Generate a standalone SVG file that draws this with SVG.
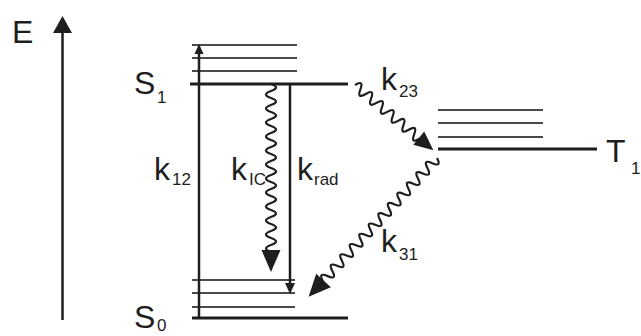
<svg xmlns="http://www.w3.org/2000/svg" width="641" height="336" viewBox="0 0 641 336">
<style>
  text { font-family: "Liberation Sans", Arial, sans-serif; fill: #1e1e1e; }
  .big { font-size: 32px; }
  .sub { font-size: 17px; }
  .lvl { stroke: #1e1e1e; stroke-width: 3; fill: none; }
  .vib { stroke: #4a4a4a; stroke-width: 2; fill: none; }
  .ln { stroke: #1e1e1e; stroke-width: 2.5; fill: none; }
  .wave { stroke: #1e1e1e; stroke-width: 2.2; fill: none; stroke-linejoin: round; }
  .head { fill: #1e1e1e; }
</style>
<rect width="641" height="336" fill="#ffffff"/>

<g id="energy-axis">
  <line class="ln" x1="62.5" y1="320" x2="62.5" y2="32" stroke-width="3.5"/>
  <polygon class="head" points="53,33 72,33 62.5,16"/>
  <text class="big" x="12" y="43" font-size="34">E</text>
</g>

<g id="S1">
  <line class="vib" x1="192" y1="45" x2="297" y2="45"/>
  <line class="vib" x1="192" y1="58" x2="297" y2="58"/>
  <line class="vib" x1="192" y1="71" x2="297" y2="71"/>
  <line class="lvl" x1="190" y1="84" x2="348" y2="84"/>
  <text class="big" x="134" y="94">S<tspan class="sub" x="157" y="103" font-size="18">1</tspan></text>
</g>

<g id="S0">
  <line class="vib" x1="192" y1="280" x2="295" y2="280"/>
  <line class="vib" x1="192" y1="293" x2="295" y2="293"/>
  <line class="vib" x1="192" y1="307" x2="295" y2="307"/>
  <line class="lvl" x1="192" y1="318" x2="348" y2="318"/>
  <text class="big" x="134" y="328">S<tspan class="sub" x="157" y="331" font-size="18">0</tspan></text>
</g>

<g id="T1">
  <line class="vib" x1="438" y1="110" x2="543" y2="110"/>
  <line class="vib" x1="438" y1="123" x2="543" y2="123"/>
  <line class="vib" x1="438" y1="137" x2="543" y2="137"/>
  <line class="lvl" x1="438" y1="149" x2="597" y2="149"/>
  <text class="big" x="606" y="162">T<tspan class="sub" x="631" y="174" font-size="18">1</tspan></text>
</g>

<g id="connectors">
  <g id="k12">
    <line class="ln" x1="199" y1="318" x2="199" y2="52"/>
    <polygon class="head" points="194.5,54 203.5,54 199,44"/>
  </g>
  <g id="kIC" transform="translate(271,84) rotate(90)">
    <path class="wave" d="M0,0 q3.5,-10 7,0 t7,0 t7,0 t7,0 t7,0 t7,0 t7,0 t7,0 t7,0 t7,0 t7,0 t7,0 t7,0 t7,0 t7,0 t7,0 t7,0 t7,0 t7,0 t7,0 t7,0 t7,0 t7,0 t7,0"/>
    <polygon class="head" points="166,-9.5 188,0 166,9.5"/>
  </g>
  <g id="krad">
    <line class="ln" x1="290" y1="84" x2="290" y2="286"/>
    <polygon class="head" points="285,283 295,283 290,294"/>
  </g>
  <g id="k23" transform="translate(355,85) rotate(39.8)">
    <path class="wave" d="M0,0 q3.5,-10 7,0 t7,0 t7,0 t7,0 t7,0 t7,0 t7,0 t7,0 t7,0 t7,0 t7,0 t7,0"/>
    <polygon class="head" points="83,-8.5 102,0 83,8.5"/>
  </g>
  <g id="k31" transform="translate(437,158) rotate(132.8)">
    <path class="wave" d="M0,0 q3.5,-10 7,0 t7,0 t7,0 t7,0 t7,0 t7,0 t7,0 t7,0 t7,0 t7,0 t7,0 t7,0 t7,0 t7,0 t7,0 t7,0 t7,0 t7,0 t7,0 t7,0 t7,0 t7,0 t7,0 t7,0"/>
    <polygon class="head" points="167,-10 189,0 167,10"/>
  </g>
</g>

<g id="labels">
  <text class="big" x="154" y="180">k<tspan class="sub" x="172" y="185">12</tspan></text>
  <text class="big" x="231" y="180">k<tspan class="sub" x="249" y="185">IC</tspan></text>
  <text class="big" x="297" y="180">k<tspan class="sub" x="314" y="185">rad</tspan></text>
  <text class="big" x="381" y="90">k<tspan class="sub" x="399" y="97">23</tspan></text>
  <text class="big" x="381" y="252">k<tspan class="sub" x="399" y="260">31</tspan></text>
</g>
</svg>
